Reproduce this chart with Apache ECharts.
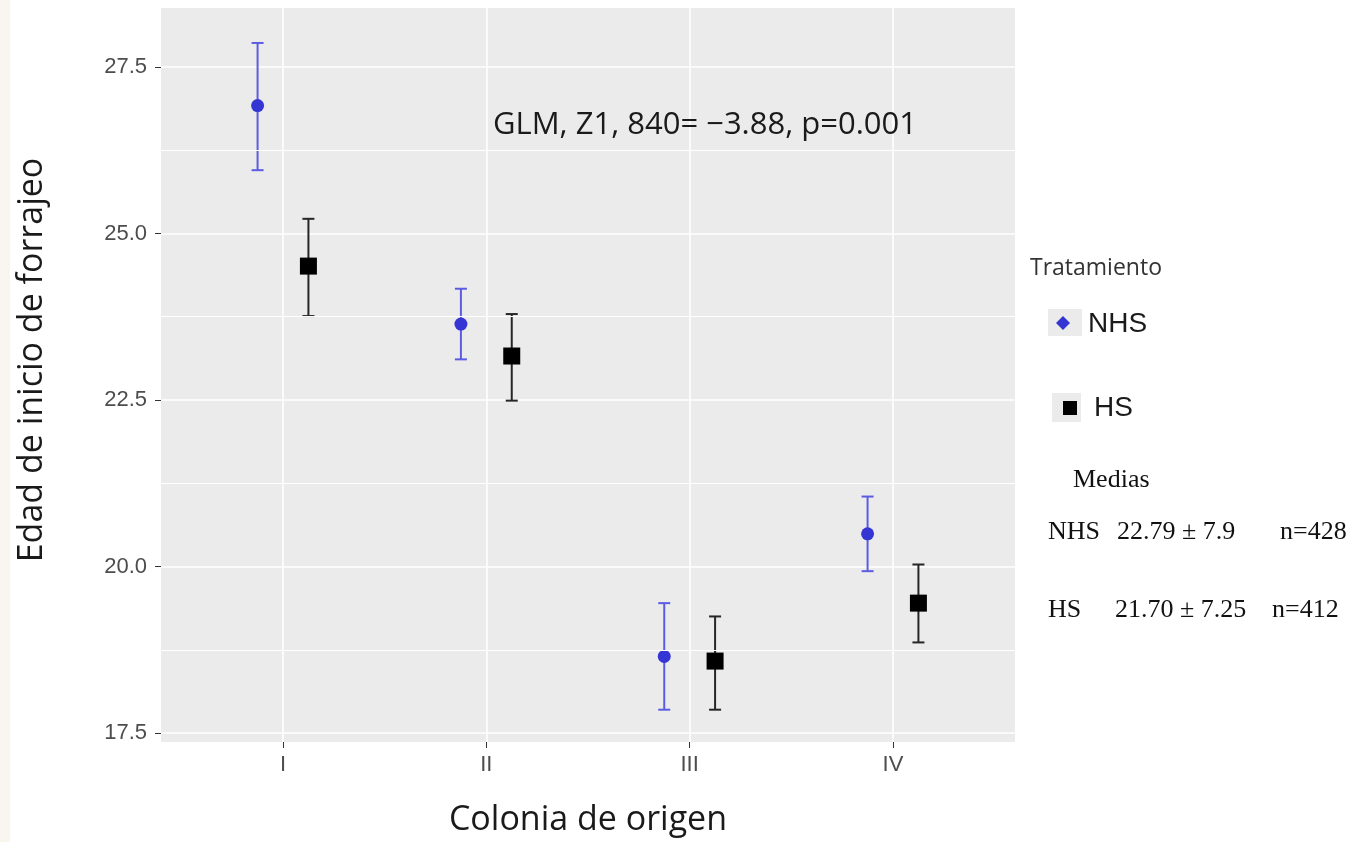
<!DOCTYPE html>
<html>
<head>
<meta charset="utf-8">
<title>Edad de inicio de forrajeo</title>
<script src="https://cdn.jsdelivr.net/npm/echarts@6/dist/echarts.min.js"></script>
<style>
  html, body { margin: 0; padding: 0; background: #fff; }
  #chart { width: 1353px; height: 842px; }
</style>
</head>
<body>
<div id="chart"></div>
<script>
// colonias (eje x discreto)
const colonias = ['I', 'II', 'III', 'IV'];
const yTicks = [17.5, 20.0, 22.5, 25.0, 27.5];
const yMinor = [18.75, 21.25, 23.75, 26.25];

// NHS: media y límites del error
const nhsMedia = [26.92, 23.64, 18.65, 20.49];
const nhsBajo = [25.95, 23.11, 17.85, 19.93];
const nhsAlto = [27.86, 24.17, 19.45, 21.05];

// HS: media y límites del error
const hsMedia = [24.51, 23.16, 18.58, 19.45];
const hsBajo = [23.76, 22.49, 17.85, 18.86];
const hsAlto = [25.22, 23.79, 19.25, 20.03];

const DODGE = 0.125;
const AZUL = '#3535d4';
const AZUL_BARRA = '#5c5ce2';
const NEGRO = '#000';

const chart = echarts.init(document.getElementById('chart'));

// puntos desplazados (dodge) a cada lado de la colonia
const puntos = (medias, desp) => medias.map((v, i) => [i + 1 + desp, v]);
const barras = (bajo, alto, desp) => bajo.map((b, i) => [i + 1 + desp, b, alto[i]]);

function barraError(color) {
  return function (params, api) {
    const x = api.value(0);
    const top = api.coord([x, api.value(2)]);
    const bot = api.coord([x, api.value(1)]);
    const w = 6;
    const st = { stroke: color, lineWidth: 2 };
    return {
      type: 'group',
      children: [
        { type: 'line', shape: { x1: top[0], y1: top[1], x2: bot[0], y2: bot[1] }, style: st },
        { type: 'line', shape: { x1: top[0] - w, y1: top[1], x2: top[0] + w, y2: top[1] }, style: st },
        { type: 'line', shape: { x1: bot[0] - w, y1: bot[1], x2: bot[0] + w, y2: bot[1] }, style: st }
      ]
    };
  };
}

const tickLabel = { color: '#4d4d4d', fontSize: 22, fontFamily: 'Liberation Sans' };
const serif = '26px "Liberation Serif"';

const option = {
  backgroundColor: '#fff',
  animation: false,
  grid: { left: 161, top: 8, width: 854, height: 734, show: true, backgroundColor: '#ebebeb', borderWidth: 0 },
  xAxis: {
    type: 'value',
    min: 0.4,
    max: 4.6,
    name: 'Colonia de origen',
    nameLocation: 'middle',
    nameGap: 61,
    nameTextStyle: { fontFamily: 'Open Sans', fontSize: 34, color: '#1a1a1a' },
    axisLine: { show: false },
    axisTick: { show: true, length: 6, customValues: [1, 2, 3, 4], lineStyle: { color: '#333' } },
    axisLabel: {
      customValues: [1, 2, 3, 4],
      margin: 12,
      ...tickLabel,
      formatter: v => colonias[Math.round(v) - 1]
    },
    splitLine: { show: true, lineStyle: { color: '#fff', width: 1.6 } }
  },
  yAxis: {
    type: 'value',
    min: 17.365,
    max: 28.385,
    name: 'Edad de inicio de forrajeo',
    nameLocation: 'middle',
    nameGap: 112,
    nameRotate: 90,
    nameTextStyle: { fontFamily: 'Open Sans', fontSize: 34, color: '#1a1a1a', padding: [0, 0, 0, 30] },
    axisLine: { show: false },
    axisTick: { show: true, length: 6, customValues: yTicks, lineStyle: { color: '#333' } },
    axisLabel: {
      customValues: yTicks,
      margin: 14,
      ...tickLabel,
      formatter: v => v.toFixed(1)
    },
    splitLine: { show: true, lineStyle: { color: '#fff', width: 1.6 } }
  },
  series: [
    {
      name: 'minor',
      type: 'line',
      data: [],
      silent: true,
      markLine: {
        silent: true,
        symbol: 'none',
        label: { show: false },
        lineStyle: { color: '#fff', width: 1, type: 'solid' },
        data: yMinor.map(v => ({ yAxis: v }))
      }
    },
    {
      name: 'NHS barras',
      type: 'custom',
      renderItem: barraError(AZUL_BARRA),
      data: barras(nhsBajo, nhsAlto, -DODGE),
      z: 3
    },
    {
      name: 'HS barras',
      type: 'custom',
      renderItem: barraError('#262626'),
      data: barras(hsBajo, hsAlto, DODGE),
      z: 3
    },
    {
      name: 'NHS',
      type: 'scatter',
      symbol: 'circle',
      symbolSize: 13,
      itemStyle: { color: AZUL, opacity: 1 },
      data: puntos(nhsMedia, -DODGE),
      z: 4
    },
    {
      name: 'HS',
      type: 'scatter',
      symbol: 'rect',
      symbolSize: 17,
      itemStyle: { color: NEGRO, opacity: 1 },
      data: puntos(hsMedia, DODGE),
      z: 4
    }
  ],
  graphic: [
    // franja beige del borde izquierdo
    { type: 'rect', left: 0, top: 0, shape: { width: 10, height: 842 }, style: { fill: '#f9f6f0' }, z: -1 },
    {
      type: 'text', x: 705, y: 125,
      style: {
        text: 'GLM, Z1, 840= \u22123.88, p=0.001', fill: '#1a1a1a',
        font: '31px "Open Sans"', textAlign: 'center', textVerticalAlign: 'middle'
      },
      z: 10
    },
    // leyenda
    {
      type: 'text', x: 1030, y: 268,
      style: { text: 'Tratamiento', fill: '#333', font: '23px "Open Sans"', textVerticalAlign: 'middle' }
    },
    { type: 'rect', shape: { x: 1048, y: 309, width: 34, height: 27 }, style: { fill: '#ebebeb' } },
    {
      type: 'polygon',
      shape: { points: [[1063, 316], [1070, 323], [1063, 330], [1056, 323]] },
      style: { fill: AZUL }
    },
    {
      type: 'text', x: 1088, y: 324,
      style: { text: 'NHS', fill: '#1a1a1a', font: '28px "Liberation Sans"', textVerticalAlign: 'middle' }
    },
    { type: 'rect', shape: { x: 1052, y: 393, width: 29, height: 29 }, style: { fill: '#ebebeb' } },
    { type: 'rect', shape: { x: 1063, y: 401, width: 14, height: 14 }, style: { fill: NEGRO } },
    {
      type: 'text', x: 1094, y: 408,
      style: { text: 'HS', fill: '#1a1a1a', font: '28px "Liberation Sans"', textVerticalAlign: 'middle' }
    },
    // medias
    { type: 'text', x: 1073, y: 480, style: { text: 'Medias', fill: '#111', font: serif, textVerticalAlign: 'middle' } },
    { type: 'text', x: 1048, y: 532, style: { text: 'NHS', fill: '#111', font: serif, textVerticalAlign: 'middle' } },
    { type: 'text', x: 1117, y: 532, style: { text: '22.79 \u00b1 7.9', fill: '#111', font: serif, textVerticalAlign: 'middle' } },
    { type: 'text', x: 1280, y: 532, style: { text: 'n=428', fill: '#111', font: serif, textVerticalAlign: 'middle' } },
    { type: 'text', x: 1048, y: 610, style: { text: 'HS', fill: '#111', font: serif, textVerticalAlign: 'middle' } },
    { type: 'text', x: 1115, y: 610, style: { text: '21.70 \u00b1 7.25', fill: '#111', font: serif, textVerticalAlign: 'middle' } },
    { type: 'text', x: 1272, y: 610, style: { text: 'n=412', fill: '#111', font: serif, textVerticalAlign: 'middle' } }
  ]
};

chart.setOption(option);
</script>
</body>
</html>
